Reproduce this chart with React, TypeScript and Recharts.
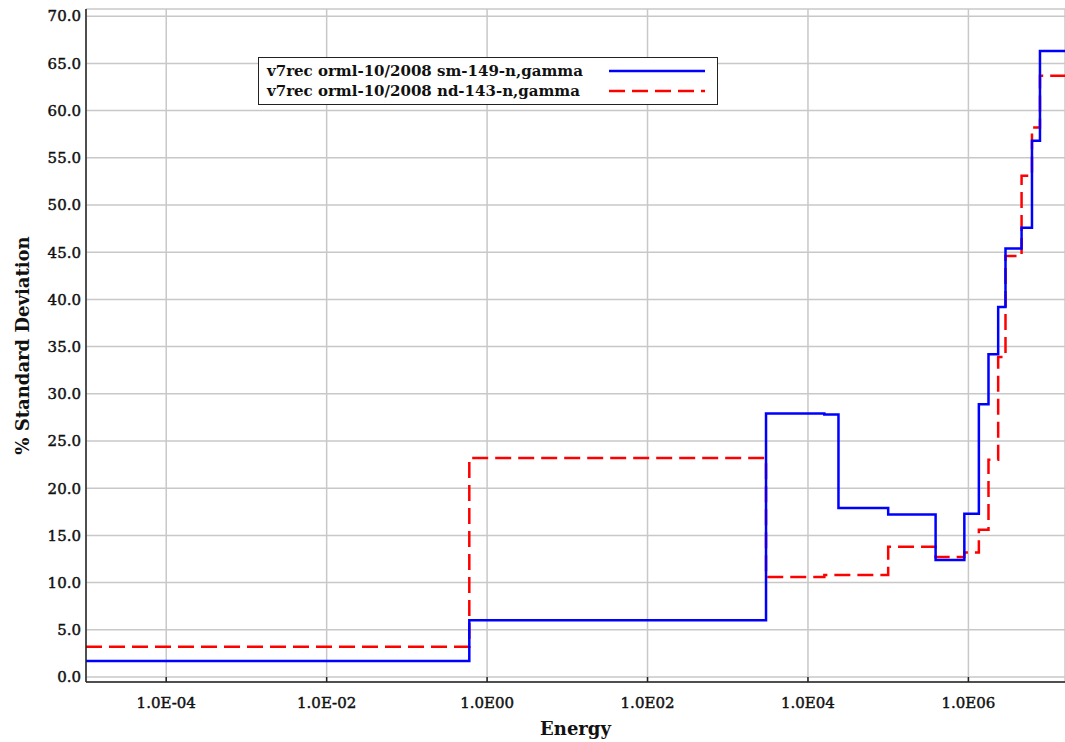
import React from 'react';
import { LineChart, Line, XAxis, YAxis, CartesianGrid, Legend } from 'recharts';

// Bin lower edges (eV) and % standard deviation values (step functions)
const smEnergy = [1e-5, 0.6, 3000, 1.6e4, 2.4e4, 1e5, 3.9e5, 8.9e5, 1.35e6, 1.78e6, 2.35e6, 2.9e6, 4.6e6, 6.2e6, 7.8e6, 2e7];
const smSigma = [1.7, 6.0, 27.9, 27.8, 17.9, 17.2, 12.4, 17.3, 28.9, 34.2, 39.2, 45.4, 47.6, 56.8, 66.3, 66.3];
const ndEnergy = [1e-5, 0.6, 3000, 1.6e4, 1e5, 3.9e5, 8.9e5, 1.35e6, 1.78e6, 2.35e6, 2.9e6, 4.6e6, 6.2e6, 7.8e6, 2e7];
const ndSigma = [3.2, 23.2, 10.6, 10.8, 13.8, 12.7, 13.2, 15.6, 23.0, 33.9, 44.6, 53.1, 58.2, 63.7, 63.7];

const seriesNames = ['v7rec orml-10/2008 sm-149-n,gamma', 'v7rec orml-10/2008 nd-143-n,gamma'];
const xTicks = [1e-4, 1e-2, 1, 1e2, 1e4, 1e6];
const xTickLabels = ['1.0E-04', '1.0E-02', '1.0E00', '1.0E02', '1.0E04', '1.0E06'];
const yTicks = [0, 5, 10, 15, 20, 25, 30, 35, 40, 45, 50, 55, 60, 65, 70];
const xTitle = 'Energy';
const yTitle = '% Standard Deviation';

const smData = smEnergy.map((x, i) => ({ x, y: smSigma[i] }));
const ndData = ndEnergy.map((x, i) => ({ x, y: ndSigma[i] }));

const FONT = '"DejaVu Serif", serif';
const tickStyle = { fontFamily: FONT, fontSize: 15, fill: '#111', stroke: '#111', strokeWidth: 0.45 };

const fmtX = (v: number) => {
  const idx = xTicks.findIndex((t) => Math.abs(Math.log10(t) - Math.log10(v)) < 1e-6);
  return idx >= 0 ? xTickLabels[idx] : '';
};

const renderLegend = (props: any) => {
  const payload = [...(props.payload || [])].sort(
    (a: any, b: any) => seriesNames.indexOf(a.value) - seriesNames.indexOf(b.value)
  );
  return (
    <div
      style={{
        border: '1px solid #222',
        background: '#fff',
        padding: '3px 10px 3px 8px',
        fontFamily: FONT,
        fontSize: 15,
        fontWeight: 600,
        color: '#111',
        lineHeight: '20px',
        whiteSpace: 'nowrap',
      }}
    >
      {payload.map((entry: any, i: number) => (
        <div key={i} style={{ display: 'flex', alignItems: 'center' }}>
          <span style={{ width: 342, display: 'inline-block' }}>{entry.value}</span>
          <svg width={98} height={12}>
            <line
              x1={0}
              x2={96}
              y1={6}
              y2={6}
              stroke={entry.color}
              strokeWidth={2.5}
              strokeDasharray={entry.payload?.strokeDasharray}
            />
          </svg>
        </div>
      ))}
    </div>
  );
};

const YTitle = (props: any) => {
  const vb = props.viewBox || { x: 0, y: 0, width: 0, height: 0 };
  const cx = 22;
  const cy = vb.y + vb.height / 2;
  return (
    <text
      x={cx}
      y={cy}
      transform={`rotate(-90, ${cx}, ${cy})`}
      textAnchor="middle"
      dominantBaseline="central"
      fontFamily={FONT}
      fontSize={18}
      fontWeight="bold"
      fill="#111"
    >
      {yTitle}
    </text>
  );
};

export default function App() {
  return (
    <div style={{ position: 'absolute', left: 0, top: 0, width: 1065, height: 742, background: '#fff' }}>
      <LineChart width={1065} height={742} margin={{ top: 9, right: 0, left: 0, bottom: 0 }}>
        <CartesianGrid stroke="#c8c8c8" strokeWidth={1.5} />
        <XAxis
          dataKey="x"
          type="number"
          scale="log"
          domain={[1e-5, 1.6e7]}
          allowDataOverflow
          ticks={xTicks}
          tickFormatter={fmtX}
          tick={tickStyle}
          tickSize={-5}
          tickMargin={20}
          tickLine={{ stroke: '#222', strokeWidth: 1.5 }}
          axisLine={{ stroke: '#222', strokeWidth: 1.5 }}
          height={60}
          label={{
            value: xTitle,
            position: 'insideBottom',
            offset: 7,
            style: { fontFamily: FONT, fontSize: 18, fontWeight: 'bold', fill: '#111' },
          }}
        />
        <XAxis
          xAxisId="top"
          dataKey="x"
          orientation="top"
          type="number"
          scale="log"
          domain={[1e-5, 1.6e7]}
          allowDataOverflow
          ticks={xTicks}
          tickFormatter={() => ''}
          tickSize={-5}
          height={0}
          tickLine={{ stroke: '#222', strokeWidth: 1.5 }}
          axisLine={{ stroke: '#222', strokeWidth: 1.5 }}
        />
        <YAxis
          type="number"
          domain={[-0.53, 70.76]}
          allowDataOverflow
          ticks={yTicks}
          tickFormatter={(v: number) => v.toFixed(1)}
          tick={tickStyle}
          tickLine={false}
          tickSize={0}
          tickMargin={5}
          width={86}
          axisLine={{ stroke: '#222', strokeWidth: 1.5 }}
          label={<YTitle />}
        />
        <Legend
          content={renderLegend}
          verticalAlign="middle"
          align="center"
          wrapperStyle={{ left: 258, top: 57, width: 'auto' }}
        />
        <Line
          data={ndData}
          dataKey="y"
          name={seriesNames[1]}
          type="stepAfter"
          stroke="#ff0000"
          strokeWidth={2.5}
          strokeDasharray="16 7"
          dot={false}
          activeDot={false}
          isAnimationActive={false}
        />
        <Line
          data={smData}
          dataKey="y"
          name={seriesNames[0]}
          type="stepAfter"
          stroke="#0000ff"
          strokeWidth={2.5}
          dot={false}
          activeDot={false}
          isAnimationActive={false}
        />
      </LineChart>
    </div>
  );
}
